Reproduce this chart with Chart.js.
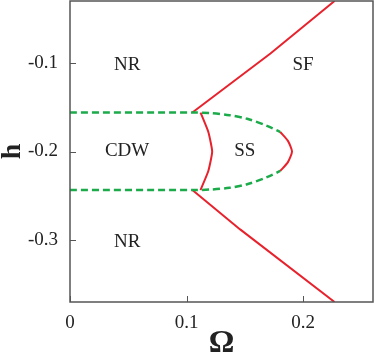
<!DOCTYPE html>
<html>
<head>
<meta charset="utf-8">
<script src="https://cdn.jsdelivr.net/npm/chart.js@4"></script>
<style>
  html, body { margin: 0; padding: 0; background: #fff; }
  #wrap { width: 374px; height: 352px; }
</style>
</head>
<body>
<div id="wrap"><canvas id="graphCanvas"></canvas></div>
<script>
// phase boundaries (x = Omega, y = h)
const cdwUpper = [[0, -0.156], [0.105, -0.156], [0.12, -0.1565], [0.137, -0.159], [0.152, -0.163], [0.169, -0.171], [0.1804, -0.178]];
const cdwLower = [[0, -0.2435], [0.105, -0.2435], [0.12, -0.243], [0.137, -0.241], [0.152, -0.237], [0.169, -0.229], [0.1804, -0.222]];
const ssTip = [[0.1804, -0.178], [0.187, -0.188], [0.1905, -0.2], [0.187, -0.212], [0.1804, -0.222]];
const ssInner = [[0.112, -0.156], [0.1187, -0.178], [0.122, -0.2], [0.1187, -0.222], [0.112, -0.2435]];
const sfUpper = [[0.105, -0.156], [0.172, -0.0894], [0.227, -0.03]];
const sfLower = [[0.105, -0.2435], [0.146, -0.288], [0.227, -0.37]];

const xTicks = [0, 0.1, 0.2];
const yTicks = [-0.3, -0.2, -0.1];
const xRange = [0, 0.26];
const yRange = [-0.37, -0.03];

const regionNames = ['NR', 'SF', 'CDW', 'SS', 'NR'];
const regionX = [0.049, 0.2, 0.049, 0.15, 0.049];
const regionY = [-0.1025, -0.1025, -0.2, -0.2, -0.302];

const RED = '#e8222c';
const GREEN = '#1bab4a';
const SERIF = '"Liberation Serif", "DejaVu Serif", serif';

function pts(arr) {
  return arr.map(p => ({ x: p[0], y: p[1] }));
}

function redLine(arr, tension) {
  return { data: pts(arr), borderColor: RED, borderWidth: 2, tension: tension, fill: false };
}

function greenLine(arr) {
  return { data: pts(arr), borderColor: GREEN, borderWidth: 2.5, borderDash: [7, 4], tension: 0.3, fill: false };
}

// frame, inward ticks and region names
const framePlugin = {
  id: 'frame',
  afterDraw(chart) {
    const ctx = chart.ctx;
    const a = chart.chartArea;
    const xs = chart.scales.x;
    const ys = chart.scales.y;
    ctx.save();
    ctx.strokeStyle = '#555';
    ctx.lineWidth = 1.5;
    ctx.strokeRect(a.left, a.top, a.right - a.left, a.bottom - a.top);
    ctx.lineWidth = 1;
    ctx.beginPath();
    xTicks.forEach(v => {
      const px = Math.round(xs.getPixelForValue(v)) + 0.5;
      ctx.moveTo(px, a.bottom);
      ctx.lineTo(px, a.bottom - 6);
    });
    yTicks.forEach(v => {
      const py = Math.round(ys.getPixelForValue(v)) + 0.5;
      ctx.moveTo(a.left, py);
      ctx.lineTo(a.left + 6, py);
    });
    ctx.stroke();

    ctx.fillStyle = '#222';
    ctx.font = '19px ' + SERIF;
    ctx.textAlign = 'center';
    ctx.textBaseline = 'middle';
    regionNames.forEach((name, i) => {
      ctx.fillText(name, xs.getPixelForValue(regionX[i]), ys.getPixelForValue(regionY[i]));
    });
    ctx.restore();
  }
};

let graphTarget = document.getElementById('graphCanvas');
let phaseGraph = new Chart(graphTarget, {
  type: 'line',
  data: {
    datasets: [
      greenLine(cdwUpper),
      greenLine(cdwLower),
      redLine(ssTip, 0.2),
      redLine(ssInner, 0.15),
      redLine(sfUpper, 0),
      redLine(sfLower, 0)
    ]
  },
  options: {
    responsive: true,
    maintainAspectRatio: false,
    animation: false,
    parsing: false,
    elements: { point: { radius: 0 } },
    layout: { padding: { top: 1, right: 1, left: 0, bottom: 0 } },
    plugins: {
      legend: { display: false },
      tooltip: { enabled: false }
    },
    scales: {
      x: {
        type: 'linear',
        min: xRange[0],
        max: xRange[1],
        grid: { display: false, drawTicks: false },
        border: { display: false },
        afterBuildTicks: s => { s.ticks = xTicks.map(v => ({ value: v })); },
        afterFit: s => { s.height = 50; s.paddingLeft = 0; s.paddingRight = 0; },
        ticks: {
          padding: 10,
          color: '#222',
          font: { family: SERIF, size: 19 },
          callback: v => String(v)
        },
        title: {
          display: true,
          text: 'Ω',
          color: '#222',
          font: { family: SERIF, size: 32, weight: 'bold', lineHeight: 1 },
          padding: { top: 0, bottom: -8 }
        }
      },
      y: {
        type: 'linear',
        min: yRange[0],
        max: yRange[1],
        grid: { display: false, drawTicks: false },
        border: { display: false },
        afterBuildTicks: s => { s.ticks = yTicks.map(v => ({ value: v })); },
        afterFit: s => { s.width = 70; s.paddingTop = 0; s.paddingBottom = 0; },
        ticks: {
          padding: 12,
          color: '#222',
          font: { family: SERIF, size: 19 },
          callback: v => String(v)
        },
        title: {
          display: true,
          text: 'h',
          color: '#222',
          font: { family: SERIF, size: 28, weight: 'bold', lineHeight: 1 },
          padding: { top: -1, bottom: 0 }
        }
      }
    }
  },
  plugins: [framePlugin]
});
</script>
</body>
</html>
